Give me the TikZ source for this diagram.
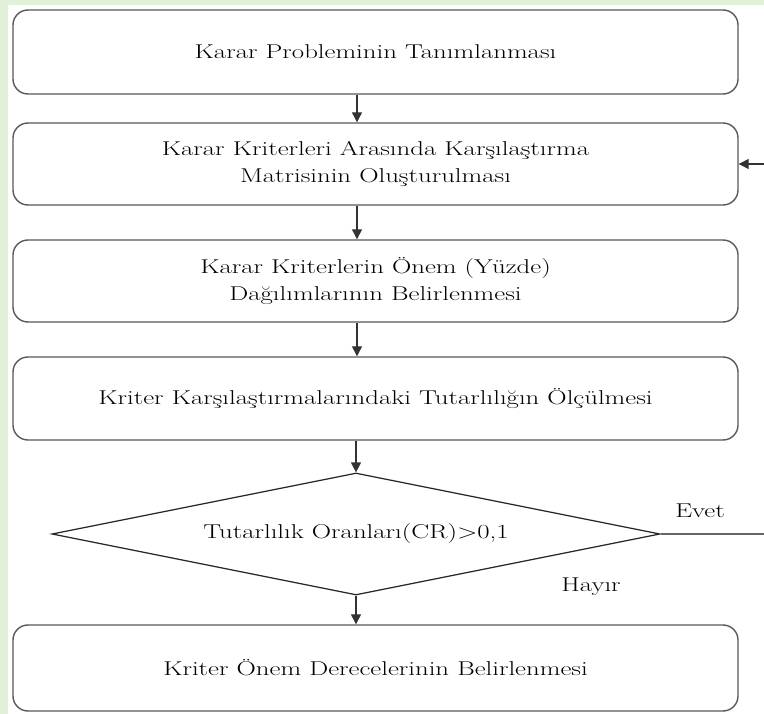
\documentclass[tikz,border=0pt]{standalone}
\usepackage{fontspec}
\setmainfont{Latin Modern Roman}[FakeStretch=1.34]
\usetikzlibrary{shapes.geometric,arrows.meta}
\definecolor{bggreen}{HTML}{E2EFD9}
\begin{document}
\begin{tikzpicture}[x=1pt,y=-1pt,
  every node/.style={font=\fontsize{20}{27}\selectfont},
  procbox/.style={draw=black!65,line width=1.4pt,rounded corners=15pt,minimum width=725pt,align=center,inner sep=0pt,fill=white},
  decbox/.style={draw=black!85,line width=1.2pt,shape=diamond,aspect=4.98,minimum width=608pt,minimum height=122pt,inner sep=0pt,fill=white},
  arr/.style={draw=black!80,line width=1.2pt,-{Triangle[length=10pt,width=10pt]}},
  fb/.style={draw=black!60,line width=1.6pt}
]
\useasboundingbox (0,0) rectangle (764,714);
\fill[bggreen] (0,0) rectangle (764,714);
\fill[white] (8,5) rectangle (764,714);

\node[procbox,minimum height=84pt] (b1) at (375.5,52) {Karar Probleminin Tanımlanması};
\node[procbox,minimum height=82pt] (b2) at (375.5,164) {Karar Kriterleri Arasında Karşılaştırma\\Matrisinin Oluşturulması};
\node[procbox,minimum height=82pt] (b3) at (375.5,281) {Karar Kriterlerin Önem (Yüzde)\\Dağılımlarının Belirlenmesi};
\node[procbox,minimum height=83pt] (b4) at (375.5,398.5) {Kriter Karşılaştırmalarındaki Tutarlılığın Ölçülmesi};
\node[decbox] (d) at (356,534) {Tutarlılık Oranları(CR)>0,1};
\node[procbox,minimum height=86pt] (b6) at (375.5,668) {Kriter Önem Derecelerinin Belirlenmesi};

\node (evet) at (700,511) {Evet};
\node (hayir) at (591,587) {Hayır};

\coordinate (ax) at (357,0);
\coordinate (fr) at (767,0);

\draw[arr] (b1.south -| ax) -- (b2.north -| ax);
\draw[arr] (b2.south -| ax) -- (b3.north -| ax);
\draw[arr] (b3.south -| ax) -- (b4.north -| ax);
\draw[arr] (b4.south -| d.north) -- (d.north);
\draw[arr] (d.south) -- (b6.north -| d.south);
\draw[fb] (d.east) -- (d.east -| fr) -- (b2.east -| fr);
\draw[arr] (b2.east -| fr) -- (b2.east);
\end{tikzpicture}
\end{document}
